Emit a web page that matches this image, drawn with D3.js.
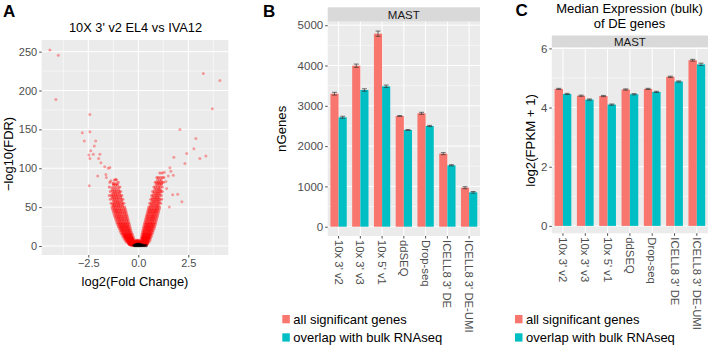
<!DOCTYPE html>
<html>
<head>
<meta charset="utf-8">
<script src="https://cdn.jsdelivr.net/npm/d3@7"></script>
<style>
  body { margin: 0; background: #fff; }
  svg { display: block; font-family: "Liberation Sans", Arial, sans-serif; }
</style>
</head>
<body>
<div id="chart"></div>
<script>
// ---- data ----

// panel A: volcano plot, 10X 3' v2 EL4 vs IVA12
// significant genes, left arm, rows of [ -log10(FDR), [log2FC ...] ]
const leftArmRows = [
  [1, [-0.12, -0.18, -0.22, -0.28, -0.32, -0.36]],
  [1.5, [-0.14, -0.2, -0.26, -0.32, -0.38]],
  [2, [-0.15, -0.2, -0.25, -0.3, -0.35, -0.4, -0.45]],
  [2.5, [-0.17, -0.22, -0.28, -0.33, -0.39, -0.44]],
  [3, [-0.18, -0.24, -0.3, -0.36, -0.42, -0.48]],
  [3.5, [-0.2, -0.27, -0.34, -0.4, -0.47]],
  [4, [-0.2, -0.26, -0.32, -0.38, -0.44, -0.5]],
  [5, [-0.22, -0.28, -0.34, -0.4, -0.46, -0.53]],
  [6, [-0.23, -0.29, -0.35, -0.41, -0.47, -0.54]],
  [7, [-0.24, -0.3, -0.36, -0.43, -0.5, -0.56]],
  [8, [-0.26, -0.33, -0.4, -0.46, -0.52, -0.59]],
  [9, [-0.28, -0.35, -0.42, -0.48, -0.55, -0.62]],
  [10, [-0.3, -0.37, -0.44, -0.5, -0.57, -0.64]],
  [11, [-0.32, -0.38, -0.45, -0.52, -0.58, -0.66]],
  [12, [-0.33, -0.4, -0.47, -0.54, -0.61, -0.68]],
  [13, [-0.35, -0.42, -0.49, -0.56, -0.63, -0.7]],
  [14, [-0.37, -0.44, -0.51, -0.58, -0.65, -0.72]],
  [15, [-0.38, -0.45, -0.52, -0.6, -0.67, -0.74]],
  [16.5, [-0.4, -0.47, -0.55, -0.62, -0.7, -0.77]],
  [18, [-0.42, -0.5, -0.57, -0.64, -0.72, -0.8]],
  [19.5, [-0.44, -0.52, -0.6, -0.67, -0.75, -0.82]],
  [21, [-0.46, -0.54, -0.62, -0.7, -0.78, -0.84]],
  [22.5, [-0.48, -0.56, -0.64, -0.72, -0.8, -0.87]],
  [24, [-0.5, -0.58, -0.66, -0.74, -0.82, -0.9]],
  [25.5, [-0.52, -0.6, -0.68, -0.76, -0.84, -0.92]],
  [27, [-0.53, -0.62, -0.7, -0.78, -0.86, -0.94]],
  [28.5, [-0.55, -0.64, -0.72, -0.8, -0.88, -0.96]],
  [30, [-0.56, -0.65, -0.74, -0.82, -0.9, -0.98]],
  [32, [-0.58, -0.67, -0.76, -0.85, -0.93, -1.0]],
  [34, [-0.6, -0.7, -0.79, -0.87, -0.95, -1.03]],
  [36, [-0.62, -0.72, -0.81, -0.9, -0.98, -1.06]],
  [38, [-0.64, -0.74, -0.83, -0.92, -1.0, -1.08]],
  [40, [-0.66, -0.76, -0.86, -0.94, -1.02, -1.1]],
  [42, [-0.68, -0.78, -0.88, -0.96, -1.05, -1.12]],
  [44, [-0.7, -0.81, -0.9, -0.99, -1.08, -1.15]],
  [46, [-0.72, -0.84, -0.93, -1.02, -1.1, -1.18]],
  [48, [-0.75, -0.86, -0.95, -1.04, -1.12, -1.2]],
  [50, [-0.78, -0.88, -0.97, -1.06, -1.15, -1.22]],
  [52, [-0.79, -0.9, -0.99, -1.08, -1.18, -1.25]],
  [54, [-0.8, -0.92, -1.0, -1.1, -1.2, -1.28]],
  [56, [-0.82, -0.94, -1.03, -1.12, -1.22]],
  [58, [-0.84, -0.96, -1.05, -1.14, -1.24]],
  [60, [-0.86, -0.98, -1.08, -1.18, -1.27]],
  [62, [-0.88, -1.0, -1.1, -1.2, -1.3]],
  [64, [-0.9, -1.02, -1.12, -1.22, -1.32]],
  [66, [-0.92, -1.04, -1.14, -1.24, -1.34]],
  [68, [-0.95, -1.06, -1.16, -1.26]],
  [70, [-0.96, -1.08, -1.18, -1.28]],
  [72, [-0.98, -1.1, -1.2, -1.3]],
  [75, [-1.0, -1.12, -1.22, -1.32]],
  [78, [-1.04, -1.14, -1.24]],
  [80, [-1.06, -1.16, -1.26]],
  [85, [-1.1, -1.2]]
];
// left arm, looser points along its inner and outer edges
const leftFringeRows = [
  [5, [-0.16, -0.6]], [7.5, [-0.2, -0.66]], [10, [-0.23, -0.72]], [12.5, [-0.27, -0.77]],
  [15, [-0.3, -0.82]], [17.5, [-0.34, -0.87]], [20, [-0.37, -0.91]], [22.5, [-0.4, -0.95]],
  [25, [-0.42, -1.0]], [27.5, [-0.45, -1.03]], [30, [-0.47, -1.07]], [32.5, [-0.5, -1.1]],
  [35, [-0.52, -1.14]], [37.5, [-0.55, -1.17]], [40, [-0.57, -1.2]], [42.5, [-0.6, -1.23]],
  [45, [-0.62, -1.26]], [47.5, [-0.65, -1.29]], [50, [-0.68, -1.32]], [55, [-0.72, -1.36]],
  [60, [-0.77, -1.4]], [65, [-0.82, -1.45]], [70, [-0.88, -1.4]], [76, [-0.92, -1.45]],
  [82, [-1.0, -1.42]]
];
// significant genes, right arm
const rightArmRows = [
  [1, [0.1, 0.15, 0.2, 0.26, 0.32, 0.38]],
  [1.5, [0.11, 0.17, 0.23, 0.29, 0.35]],
  [2, [0.12, 0.18, 0.24, 0.3, 0.36, 0.42]],
  [2.5, [0.13, 0.19, 0.25, 0.31, 0.37, 0.43]],
  [3, [0.14, 0.2, 0.26, 0.32, 0.38, 0.44]],
  [3.5, [0.15, 0.21, 0.27, 0.33, 0.39, 0.45]],
  [4, [0.15, 0.21, 0.27, 0.33, 0.39, 0.45]],
  [5, [0.16, 0.22, 0.28, 0.34, 0.4, 0.46]],
  [6, [0.17, 0.23, 0.29, 0.35, 0.41, 0.47]],
  [7, [0.18, 0.24, 0.3, 0.36, 0.42, 0.48]],
  [8, [0.19, 0.25, 0.31, 0.37, 0.44, 0.5]],
  [9, [0.2, 0.26, 0.32, 0.38, 0.45, 0.52]],
  [10, [0.21, 0.27, 0.34, 0.4, 0.47, 0.53]],
  [11, [0.22, 0.28, 0.35, 0.42, 0.48, 0.55]],
  [12, [0.23, 0.29, 0.36, 0.43, 0.49, 0.56]],
  [13, [0.24, 0.3, 0.37, 0.44, 0.5, 0.58]],
  [14, [0.25, 0.32, 0.38, 0.45, 0.52, 0.59]],
  [15, [0.26, 0.33, 0.4, 0.46, 0.53, 0.6]],
  [16.5, [0.27, 0.34, 0.41, 0.48, 0.55, 0.62]],
  [18, [0.28, 0.36, 0.43, 0.5, 0.57, 0.64]],
  [19.5, [0.3, 0.38, 0.45, 0.52, 0.59, 0.66]],
  [21, [0.31, 0.39, 0.46, 0.53, 0.6, 0.68]],
  [22.5, [0.33, 0.41, 0.48, 0.55, 0.62, 0.7]],
  [24, [0.34, 0.42, 0.49, 0.56, 0.64, 0.72]],
  [25.5, [0.36, 0.44, 0.51, 0.58, 0.66, 0.74]],
  [27, [0.37, 0.45, 0.52, 0.6, 0.68, 0.75]],
  [28.5, [0.39, 0.47, 0.54, 0.62, 0.69, 0.77]],
  [30, [0.4, 0.48, 0.56, 0.63, 0.7, 0.78]],
  [32, [0.42, 0.5, 0.58, 0.65, 0.72, 0.8]],
  [34, [0.44, 0.52, 0.6, 0.67, 0.74, 0.82]],
  [36, [0.46, 0.54, 0.62, 0.69, 0.76, 0.84]],
  [38, [0.48, 0.56, 0.64, 0.71, 0.78, 0.86]],
  [40, [0.5, 0.58, 0.66, 0.73, 0.8, 0.88]],
  [42, [0.52, 0.6, 0.68, 0.75, 0.82, 0.9]],
  [44, [0.54, 0.62, 0.7, 0.78, 0.85, 0.92]],
  [46, [0.56, 0.64, 0.72, 0.8, 0.87, 0.94]],
  [48, [0.58, 0.66, 0.74, 0.82, 0.9, 0.96]],
  [50, [0.6, 0.68, 0.76, 0.84, 0.92, 0.98]],
  [52.5, [0.62, 0.7, 0.78, 0.86, 0.94, 1.0]],
  [55, [0.65, 0.73, 0.8, 0.88, 0.96, 1.03]],
  [57.5, [0.68, 0.76, 0.83, 0.9, 0.98, 1.05]],
  [60, [0.7, 0.78, 0.86, 0.93, 1.0, 1.08]],
  [62.5, [0.72, 0.81, 0.88, 0.96, 1.03]],
  [65, [0.75, 0.84, 0.91, 0.98, 1.06]],
  [67.5, [0.78, 0.87, 0.94, 1.01, 1.09]],
  [70, [0.8, 0.9, 0.97, 1.04, 1.12]],
  [73, [0.83, 0.92, 1.0, 1.07]],
  [76, [0.86, 0.95, 1.03, 1.1]],
  [79, [0.89, 0.98, 1.06, 1.14]],
  [82, [0.92, 1.02, 1.1, 1.18]],
  [85, [0.96, 1.06, 1.15]],
  [88, [1.0, 1.1, 1.2]],
  [94, [1.08, 1.2]]
];
// right arm edges
const rightFringeRows = [
  [5, [0.1, 0.54]], [7.5, [0.13, 0.58]], [10, [0.15, 0.61]], [12.5, [0.17, 0.65]],
  [15, [0.19, 0.68]], [17.5, [0.21, 0.72]], [20, [0.23, 0.75]], [22.5, [0.25, 0.79]],
  [25, [0.27, 0.82]], [27.5, [0.3, 0.85]], [30, [0.32, 0.87]], [32.5, [0.35, 0.9]],
  [35, [0.37, 0.92]], [37.5, [0.4, 0.95]], [40, [0.42, 0.97]], [42.5, [0.45, 1.0]],
  [45, [0.47, 1.02]], [47.5, [0.5, 1.05]], [50, [0.52, 1.07]], [55, [0.57, 1.12]],
  [60, [0.62, 1.17]], [65, [0.67, 1.15]], [70, [0.72, 1.2]], [76, [0.78, 1.2]],
  [82, [0.85, 1.26]], [88, [0.93, 1.28]]
];
// points closing the bottom of the V between the two arms
const vBaseRows = [
  [1.5, [-0.08, -0.02, 0.04]],
  [2.5, [-0.1, -0.04, 0.02, 0.08]],
  [3.5, [-0.12, -0.06, 0, 0.06, 0.12]],
  [4.5, [-0.13, -0.07, -0.01, 0.05, 0.11]],
  [5.5, [-0.14, -0.08, -0.02, 0.04, 0.1]],
  [6.5, [-0.13, -0.07, -0.01, 0.05]],
  [7.5, [-0.1, -0.04, 0.02]]
];
// scattered significant genes
const volcanoOutliers = [
  [-4.42, 252], [-4.0, 245.5], [-4.12, 188.5], [-2.42, 169], [-2.8, 145.6], [-2.42, 147],
  [-2.7, 135], [-2.13, 135], [-2.2, 128.5], [-2.38, 122.5], [-2.25, 118], [-2.47, 117],
  [-1.92, 118], [-1.98, 112.7], [-2.42, 112.7], [-1.87, 107], [-2.45, 77.5], [-2.03, 90],
  [-1.62, 92], [-1.5, 100], [-1.42, 101], [-1.68, 102], [-1.6, 88], [-1.37, 84], [-1.12, 86],
  [-1.25, 81],
  [3.25, 222], [4.08, 213], [3.7, 176.5], [2.08, 150], [2.88, 138.4], [2.78, 125], [2.42, 119],
  [3.38, 115.7], [3.08, 112.7], [2.33, 106], [1.78, 114], [1.97, 66.4], [1.72, 66], [2.18, 57],
  [1.55, 50], [1.58, 100.7], [1.63, 96], [1.5, 90], [1.75, 91], [1.3, 94.7], [1.38, 83],
  [1.17, 80], [1.0, 81], [1.42, 74], [1.12, 72]
];
// non-significant genes (black blob at the origin)
const nsRows = [
  [0.3, [-0.2, -0.12, -0.05, 0, 0.05, 0.12, 0.2, 0.3, 0.4]],
  [0.8, [-0.22, -0.15, -0.08, -0.02, 0.04, 0.1, 0.18, 0.26, 0.35]],
  [1.3, [-0.18, -0.1, -0.03, 0.03, 0.1, 0.16, 0.24]],
  [1.8, [-0.12, -0.05, 0.02, 0.08, 0.14]],
  [2.4, [-0.06, 0.0, 0.06]]
];
const volcanoXTicks = [-2.5, 0, 2.5];
const volcanoYTicks = [0, 50, 100, 150, 200, 250];

// panels B and C: bars per method
const methods = ["10x 3' v2", "10x 3' v3", "10x 5' v1", "ddSEQ", "Drop-seq", "ICELL8 3' DE", "ICELL8 3' DE-UMI"];
const seriesNames = ["all significant genes", "overlap with bulk RNAseq"];
const nGenesAll = [3300, 3995, 4790, 2747, 2814, 1812, 968];
const nGenesAllErr = [35, 40, 65, 10, 25, 25, 25];
const nGenesBulk = [2715, 3392, 3484, 2400, 2499, 1523, 853];
const nGenesBulkErr = [25, 30, 30, 10, 15, 15, 20];
const nGenesTicks = [0, 1000, 2000, 3000, 4000, 5000];
const exprAll = [4.63, 4.40, 4.39, 4.61, 4.63, 5.04, 5.60];
const exprAllErr = [0.02, 0.02, 0.02, 0.02, 0.02, 0.02, 0.03];
const exprBulk = [4.46, 4.27, 4.10, 4.45, 4.53, 4.88, 5.46];
const exprBulkErr = [0.02, 0.02, 0.02, 0.02, 0.02, 0.02, 0.04];
const exprTicks = [0, 2, 4, 6];

// ---- style ----
const panelBg = "#EBEBEB";
const stripBg = "#D9D9D9";
const tickGrey = "#4D4D4D";
const colors = ["#F8766D", "#00BFC4"];

const width = 709, height = 345;
const svg = d3.select("#chart").append("svg")
  .attr("width", width)
  .attr("height", height)
  .attr("viewBox", [0, 0, width, height]);

svg.append("rect").attr("width", width).attr("height", height).attr("fill", "#fff");

function panelLetter(x, y, t) {
  svg.append("text").attr("x", x).attr("y", y)
    .style("font-size", "17px").style("font-weight", "bold").text(t);
}

function fmtMinus(v) {
  return d3.format(".1f")(v).replace("-", "\u2212");
}

// ================= Panel A =================
function drawVolcano() {
  const L = 41.7, R = 228.3, T = 40, B = 255;
  const x = d3.scaleLinear().domain([-4.83, 4.5]).range([L, R]);
  const y = d3.scaleLinear().domain([-11.6, 265]).range([B, T]);
  const g = svg.append("g");

  g.append("rect").attr("x", L).attr("y", T).attr("width", R - L).attr("height", B - T).attr("fill", panelBg);

  // minor grid
  const xMinor = [-3.75, -1.25, 1.25, 3.75];
  const yMinor = [25, 75, 125, 175, 225];
  g.selectAll(".vminor").data(xMinor).join("line")
    .attr("x1", d => x(d)).attr("x2", d => x(d)).attr("y1", T).attr("y2", B)
    .attr("stroke", "#fff").attr("stroke-width", 0.5);
  g.selectAll(".hminor").data(yMinor).join("line")
    .attr("x1", L).attr("x2", R).attr("y1", d => y(d)).attr("y2", d => y(d))
    .attr("stroke", "#fff").attr("stroke-width", 0.5);
  // major grid
  g.selectAll(".vmajor").data(volcanoXTicks).join("line")
    .attr("x1", d => x(d)).attr("x2", d => x(d)).attr("y1", T).attr("y2", B)
    .attr("stroke", "#fff").attr("stroke-width", 1);
  g.selectAll(".hmajor").data(volcanoYTicks).join("line")
    .attr("x1", L).attr("x2", R).attr("y1", d => y(d)).attr("y2", d => y(d))
    .attr("stroke", "#fff").attr("stroke-width", 1);

  // points: dense arms, then scattered ones, then the black non-significant blob
  const arms = [];
  [leftArmRows, leftFringeRows, rightArmRows, rightFringeRows, vBaseRows].forEach(rows =>
    rows.forEach(([yy, xs]) => xs.forEach(xx => arms.push([xx, yy]))));
  const ns = [];
  nsRows.forEach(([yy, xs]) => xs.forEach(xx => ns.push([xx, yy])));

  g.append("g").selectAll("circle").data(arms).join("circle")
    .attr("cx", d => x(d[0])).attr("cy", d => y(d[1])).attr("r", 1.5)
    .attr("fill", "red").attr("fill-opacity", 0.45);
  g.append("g").selectAll("circle").data(volcanoOutliers).join("circle")
    .attr("cx", d => x(d[0])).attr("cy", d => y(d[1])).attr("r", 1.5)
    .attr("fill", "red").attr("fill-opacity", 0.35);
  g.append("g").selectAll("circle").data(ns).join("circle")
    .attr("cx", d => x(d[0])).attr("cy", d => y(d[1])).attr("r", 1.5)
    .attr("fill", "black").attr("fill-opacity", 0.5);

  // axes
  const ax = g.append("g").attr("transform", `translate(0,${B})`)
    .call(d3.axisBottom(x).tickValues(volcanoXTicks).tickSize(2.5).tickPadding(2).tickFormat(fmtMinus));
  const ay = g.append("g").attr("transform", `translate(${L},0)`)
    .call(d3.axisLeft(y).tickValues(volcanoYTicks).tickSize(2.5).tickPadding(2).tickFormat(d3.format("d")));
  [ax, ay].forEach(a => {
    a.select(".domain").remove();
    a.selectAll("line").attr("stroke", tickGrey);
    a.selectAll("text").attr("fill", tickGrey).style("font-size", "11px").style("font-family", null);
  });

  svg.append("text").attr("x", 135.5).attr("y", 31.5).attr("text-anchor", "middle")
    .style("font-size", "12.8px").text("10X 3' v2 EL4 vs IVA12");
  svg.append("text").attr("x", 135).attr("y", 286).attr("text-anchor", "middle")
    .style("font-size", "12.9px").text("log2(Fold Change)");
  svg.append("text").attr("transform", "translate(13,154) rotate(-90)").attr("text-anchor", "middle")
    .style("font-size", "12.9px").text("\u2212log10(FDR)");
}

// ================= Panels B / C =================
function drawBarPanel(o) {
  const x = d3.scaleBand().domain(methods).range([o.L, o.R]).padding(0);
  const step = x.step();
  const x1 = d3.scaleBand().domain(seriesNames).range([-step * 0.375, step * 0.375]).padding(0);
  const y = d3.scaleLinear().domain(o.domain).range([o.B, o.T]);
  const g = svg.append("g");

  // strip
  g.append("rect").attr("x", o.L).attr("y", o.stripTop).attr("width", o.R - o.L).attr("height", o.T - o.stripTop).attr("fill", stripBg);
  g.append("text").attr("x", (o.L + o.R) / 2).attr("y", (o.stripTop + o.T) / 2).attr("dy", "0.36em")
    .attr("text-anchor", "middle").attr("fill", "#1A1A1A").style("font-size", "11.5px").text("MAST");

  g.append("rect").attr("x", o.L).attr("y", o.T).attr("width", o.R - o.L).attr("height", o.B - o.T).attr("fill", panelBg);
  g.selectAll(".hminor").data(o.minor).join("line")
    .attr("x1", o.L).attr("x2", o.R).attr("y1", d => y(d)).attr("y2", d => y(d))
    .attr("stroke", "#fff").attr("stroke-width", 0.5);
  g.selectAll(".hmajor").data(o.ticks).join("line")
    .attr("x1", o.L).attr("x2", o.R).attr("y1", d => y(d)).attr("y2", d => y(d))
    .attr("stroke", "#fff").attr("stroke-width", 1);
  g.selectAll(".vmajor").data(methods).join("line")
    .attr("x1", d => x(d) + step / 2).attr("x2", d => x(d) + step / 2).attr("y1", o.T).attr("y2", o.B)
    .attr("stroke", "#fff").attr("stroke-width", 1);

  const rows = [];
  methods.forEach((m, i) => {
    rows.push({ m, s: seriesNames[0], v: o.all[i], e: o.allErr[i], c: colors[0] });
    rows.push({ m, s: seriesNames[1], v: o.bulk[i], e: o.bulkErr[i], c: colors[1] });
  });
  const bw = x1.bandwidth();
  g.append("g").selectAll("rect").data(rows).join("rect")
    .attr("x", d => x(d.m) + step / 2 + x1(d.s))
    .attr("y", d => y(d.v))
    .attr("width", bw)
    .attr("height", d => y(0) - y(d.v))
    .attr("fill", d => d.c);

  // error bars
  const eb = g.append("g").attr("stroke", "#333").attr("stroke-width", 0.7);
  rows.forEach(d => {
    const cx = x(d.m) + step / 2 + x1(d.s) + bw / 2, hw = bw * 0.3;
    eb.append("line").attr("x1", cx).attr("x2", cx).attr("y1", y(d.v - d.e)).attr("y2", y(d.v + d.e));
    eb.append("line").attr("x1", cx - hw).attr("x2", cx + hw).attr("y1", y(d.v + d.e)).attr("y2", y(d.v + d.e));
    eb.append("line").attr("x1", cx - hw).attr("x2", cx + hw).attr("y1", y(d.v - d.e)).attr("y2", y(d.v - d.e));
  });

  // axes
  const ay = g.append("g").attr("transform", `translate(${o.L},0)`)
    .call(d3.axisLeft(y).tickValues(o.ticks).tickSize(2.5).tickPadding(2).tickFormat(d3.format("d")));
  ay.select(".domain").remove();
  ay.selectAll("line").attr("stroke", tickGrey);
  ay.selectAll("text").attr("fill", tickGrey).style("font-size", "11.5px").style("font-family", null);

  g.selectAll(".xtick").data(methods).join("line")
    .attr("x1", d => x(d) + step / 2).attr("x2", d => x(d) + step / 2).attr("y1", o.B).attr("y2", o.B + 2.5)
    .attr("stroke", tickGrey);
  g.selectAll(".xlab").data(methods).join("text")
    .attr("transform", d => `translate(${x(d) + step / 2},${o.B + 4}) rotate(90)`)
    .attr("dominant-baseline", "central")
    .attr("fill", tickGrey).style("font-size", "11.3px").text(d => d);

  svg.append("text").attr("transform", `translate(${o.yLabelX},${(o.T + o.B) / 2}) rotate(-90)`)
    .attr("text-anchor", "middle").style("font-size", "13.2px").text(o.yLabel);

  // legend
  seriesNames.forEach((s, i) => {
    const ly = 315 + i * 18.3;
    svg.append("rect").attr("x", o.legendX).attr("y", ly).attr("width", 7.5).attr("height", 8.3).attr("fill", colors[i]);
    svg.append("text").attr("x", o.legendX + 11).attr("y", ly + 4.2).attr("dy", "0.36em")
      .style("font-size", "13px").text(s);
  });
}

drawVolcano();
drawBarPanel({
  L: 327.7, R: 480, T: 21.7, B: 236, stripTop: 7.3,
  domain: [-231, 5087], ticks: nGenesTicks, minor: [500, 1500, 2500, 3500, 4500],
  all: nGenesAll, allErr: nGenesAllErr, bulk: nGenesBulk, bulkErr: nGenesBulkErr,
  yLabel: "nGenes", yLabelX: 286, legendX: 282.3
});
drawBarPanel({
  L: 551.8, R: 708, T: 47.5, B: 233.3, stripTop: 35.5,
  domain: [-0.25, 6.03], ticks: exprTicks, minor: [1, 3, 5],
  all: exprAll, allErr: exprAllErr, bulk: exprBulk, bulkErr: exprBulkErr,
  yLabel: "log2(FPKM + 1)", yLabelX: 534.5, legendX: 515
});

svg.append("text").attr("x", 629.5).attr("y", 12.5).attr("text-anchor", "middle")
  .style("font-size", "13px").text("Median Expression (bulk)");
svg.append("text").attr("x", 629.5).attr("y", 27.5).attr("text-anchor", "middle")
  .style("font-size", "13px").text("of DE genes");

panelLetter(3, 17.3, "A");
panelLetter(263, 16.7, "B");
panelLetter(515.5, 16, "C");
</script>
</body>
</html>
